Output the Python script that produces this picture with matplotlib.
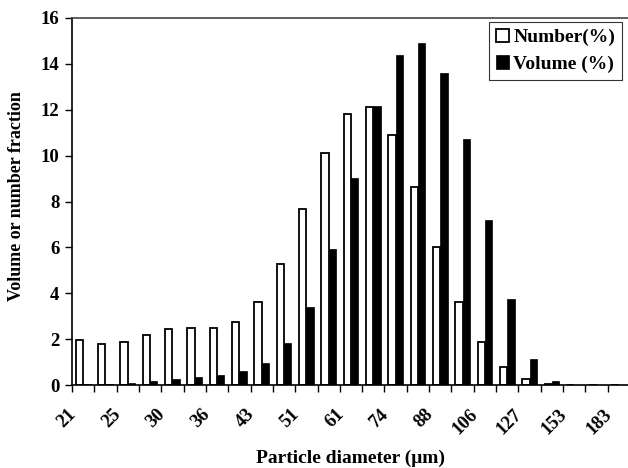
import numpy as np
import matplotlib
matplotlib.use("Agg")
import matplotlib.pyplot as plt
import matplotlib.transforms as mtransforms

# particle size classes (um); only every other one is labelled on the axis
diameters = [21, 23, 25, 27, 30, 33, 36, 39, 43, 47, 51, 56, 61, 67, 74,
             81, 88, 97, 106, 116, 127, 140, 153, 167, 183]
number_pct = [1.97, 1.77, 1.89, 2.20, 2.45, 2.49, 2.49, 2.73, 3.60, 5.29,
              7.67, 10.11, 11.81, 12.10, 10.91, 8.63, 6.02, 3.63, 1.89,
              0.80, 0.25, 0.03, 0.0, 0.0, 0.0]
volume_pct = [0.05, 0.05, 0.08, 0.19, 0.28, 0.33, 0.42, 0.59, 0.97, 1.83,
              3.42, 5.93, 9.04, 12.16, 14.37, 14.91, 13.62, 10.73, 7.18,
              3.74, 1.13, 0.17, 0.02, 0.0, 0.0]

plt.rcParams["font.family"] = ["Liberation Serif", "DejaVu Serif"]
plt.rcParams["font.weight"] = "bold"

W, H = 628, 468
fig = plt.figure(figsize=(W / 100, H / 100), dpi=100)
left, right, top, bottom = 72, 630, 18, 385
ax = fig.add_axes([left / W, 1 - bottom / H, (right - left) / W, (bottom - top) / H])

x = np.arange(len(diameters))
bw = 0.33
ax.bar(x - 0.165, number_pct, bw, color="white", edgecolor="black",
       linewidth=1.3, label="Number(%)")
ax.bar(x + 0.165, volume_pct, bw, color="black", edgecolor="black",
       linewidth=0.5, label="Volume (%)")

ax.set_xlim(-0.5, len(diameters) - 0.5)
ax.set_ylim(0, 16)
ax.set_yticks(np.arange(0, 17, 2))
ax.set_yticklabels([str(v) for v in range(0, 17, 2)], fontsize=13.5, fontweight="bold")

# boundaries carry the tick marks, labels sit on every other class
ax.set_xticks(np.arange(-0.5, len(diameters), 1), minor=True)
ax.set_xticks(x[::2])
ax.set_xticklabels([str(d) for d in diameters[::2]], rotation=45,
                   ha="right", va="top", fontsize=13.5, fontweight="bold")
ax.tick_params(axis="x", which="major", length=0, pad=15)
ax.tick_params(axis="x", which="minor", length=5, width=1, direction="out")
ax.tick_params(axis="y", length=5, width=1, direction="out", pad=4)
shift = mtransforms.ScaledTranslation(-4 / 100, 0, fig.dpi_scale_trans)
for lab in ax.get_xticklabels():
    lab.set_transform(lab.get_transform() + shift)

ax.spines["right"].set_visible(False)
for s in ["left", "bottom", "top"]:
    ax.spines[s].set_linewidth(1.2)
ax.spines["top"].set_color("#444444")

fig.text((left + right) / 2 / W, 1 - 458 / H, "Particle diameter (\u03bcm)",
         ha="center", va="center", fontsize=14, fontweight="bold")
fig.text(17 / W, 1 - 196 / H, "Volume or number fraction", rotation=90,
         ha="center", va="center", fontsize=13, fontweight="bold")

leg = ax.legend(loc="upper right", bbox_to_anchor=(622 / W, 1 - 22 / H),
                bbox_transform=fig.transFigure, fontsize=14, frameon=True,
                fancybox=False, handlelength=0.7, handleheight=0.7,
                handletextpad=0.2, borderpad=0.35, labelspacing=0.45,
                borderaxespad=0)
leg.get_frame().set_edgecolor("black")
leg.get_frame().set_linewidth(0.8)
for t in leg.get_texts():
    t.set_fontweight("bold")

fig.savefig("out.png", dpi=100)
